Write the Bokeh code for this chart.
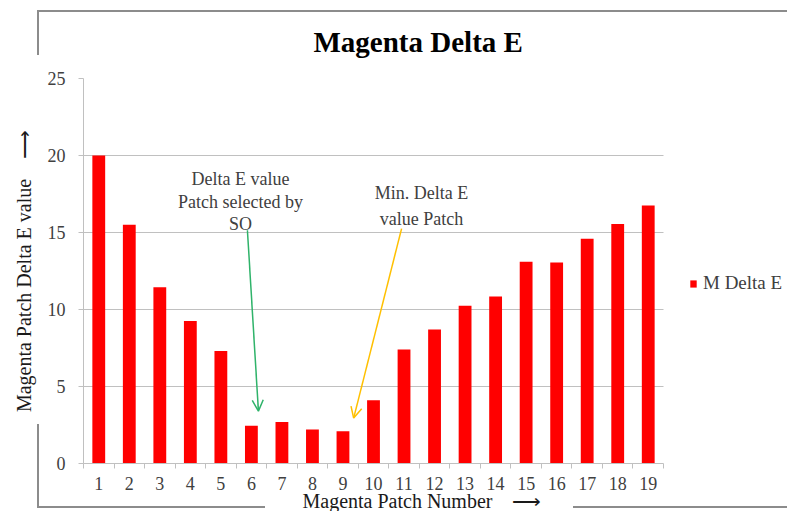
from bokeh.plotting import figure
from bokeh.models import (FixedTicker, Range1d, Title, Arrow, OpenHead, Grid,
                          Legend, LegendItem, ColumnDataSource, InlineStyleSheet)
from bokeh.core.properties import value
from bokeh.embed import file_html
from bokeh.resources import INLINE

# ---------------- data ----------------
patches = list(range(1, 20))
patch_labels = [str(i) for i in patches]
delta_e = [20.0, 15.5, 11.45, 9.25, 7.3, 2.45, 2.7, 2.2, 2.1, 4.1,
           7.4, 8.7, 10.25, 10.85, 13.1, 13.05, 14.6, 15.55, 16.75]
y_ticks = [0, 5, 10, 15, 20, 25]

title_text = "Magenta Delta E"
x_title = "Magenta Patch Number\u00a0\u00a0\u00a0\u00a0\u27f6"
y_title = "Magenta Patch Delta E value\u00a0\u00a0\u00a0\u00a0\u27f6"
series_name = "M Delta E"

note_so_lines = ["Delta E value", "Patch selected by", "SO"]
note_so_x = [5.64, 5.64, 5.64]
note_so_y = [18.5, 16.95, 15.58]
note_min_lines = ["Min. Delta E", "value Patch"]
note_min_x = [11.57, 11.57]
note_min_y = [17.55, 15.85]

arrow_so = dict(x_start=5.87, y_start=15.15, x_end=6.23, y_end=3.4)
arrow_min = dict(x_start=10.92, y_start=15.25, x_end=9.35, y_end=2.95)

FONT = "Liberation Serif"
GRID = "#c0c0c0"
TXT = "#404040"
BORDER = "#8c8c8c"
W, H = 787, 511

# partial chart-area border drawn as page decoration
border_css = InlineStyleSheet(css=f"""
:host {{ position: relative; }}
:host::after {{
  content: ""; position: absolute; left: 0; top: 0; width: {W}px; height: {H}px;
  pointer-events: none; z-index: 10;
  background:
    linear-gradient({BORDER},{BORDER}) 37px 10px / {W - 37}px 2px no-repeat,
    linear-gradient({BORDER},{BORDER}) 37px 10px / 2px 45px no-repeat,
    linear-gradient({BORDER},{BORDER}) 37px 424px / 2px 84px no-repeat,
    linear-gradient({BORDER},{BORDER}) 37px 506px / 228px 2px no-repeat,
    linear-gradient({BORDER},{BORDER}) 573px 506px / {W - 573}px 2px no-repeat;
}}
""")

n = len(patches)
x_lo, x_hi = 0.5, n + 0.5
# frame extends over the legend area on the right (plot area = 580 of 704 px)
x_view_end = x_lo + n * (W - 83) / 580

p = figure(width=W, height=H, output_backend="svg", toolbar_location=None,
           x_range=Range1d(x_lo, x_view_end), y_range=Range1d(0, 25),
           min_border_left=83, min_border_right=0, min_border_top=78,
           min_border_bottom=48, title=None)
p.stylesheets = [border_css]
p.outline_line_color = None
p.background_fill_color = "white"
p.border_fill_color = "white"

src = ColumnDataSource(dict(x=patches, top=delta_e))
bars = p.vbar(x="x", top="top", width=0.42, source=src,
              fill_color="#ff0000", line_color=None)

# axes
xa = p.xaxis[0]
xa.bounds = (x_lo, x_hi)
xa.ticker = FixedTicker(ticks=patches,
                        minor_ticks=[i + 0.5 for i in range(0, n + 1)])
xa.major_label_overrides = {i: l for i, l in zip(patches, patch_labels)}
xa.major_tick_out = 0
xa.major_tick_in = 0
xa.minor_tick_out = 5
xa.minor_tick_in = 0
xa.minor_tick_line_color = GRID
xa.axis_line_color = GRID
xa.major_label_text_font = FONT
xa.major_label_text_font_size = "18px"
xa.major_label_text_color = TXT
xa.major_label_standoff = 8

ya = p.yaxis[0]
ya.ticker = FixedTicker(ticks=y_ticks, minor_ticks=[])
ya.major_tick_out = 5
ya.major_tick_in = 0
ya.minor_tick_line_color = None
ya.major_tick_line_color = GRID
ya.axis_line_color = GRID
ya.major_label_text_font = FONT
ya.major_label_text_font_size = "18px"
ya.major_label_text_color = TXT
ya.major_label_standoff = 13
ya.axis_label = y_title
ya.axis_label_text_font = FONT
ya.axis_label_text_font_size = "20px"
ya.axis_label_text_font_style = "normal"
ya.axis_label_text_color = "#1a1a1a"
ya.axis_label_standoff = 10

p.xgrid.grid_line_color = None
p.ygrid.ticker = FixedTicker(ticks=y_ticks)
if "cross_bounds" in Grid.properties():
    p.ygrid.cross_bounds = (x_lo, x_hi)
    p.ygrid.grid_line_color = GRID
else:
    p.ygrid.grid_line_color = None
    p.segment(x0=x_lo, x1=x_hi, y0=y_ticks, y1=y_ticks, line_color=GRID,
              line_width=1, level="underlay")

# chart title and x axis title
p.add_layout(Title(text=title_text, align="left", offset=230, standoff=41,
                   text_font=FONT, text_font_size="29px", text_font_style="bold",
                   text_color="black"), "above")
p.add_layout(Title(text=x_title, align="left", offset=219, standoff=-10,
                   text_font=FONT, text_font_size="20px", text_font_style="normal",
                   text_color="#1a1a1a"), "below")

# annotations
p.text(x=note_so_x, y=note_so_y, text=note_so_lines, text_align="center",
       text_baseline="middle", text_font=value(FONT), text_font_size="18px",
       text_color=TXT)
p.text(x=note_min_x, y=note_min_y, text=note_min_lines, text_align="center",
       text_baseline="middle", text_font=value(FONT), text_font_size="18px",
       text_color=TXT)

p.add_layout(Arrow(end=OpenHead(size=11, line_color="#2fb36a", line_width=1.5),
                   line_color="#2fb36a", line_width=1.5, **arrow_so))
p.add_layout(Arrow(end=OpenHead(size=11, line_color="#ffc000", line_width=1.5),
                   line_color="#ffc000", line_width=1.5, **arrow_min))

legend = Legend(items=[LegendItem(label=series_name, renderers=[bars])],
                location=(606, 169), border_line_color=None,
                background_fill_alpha=0, padding=0, margin=0, spacing=0,
                glyph_width=8, glyph_height=9, label_height=9,
                label_standoff=6, label_text_font=FONT,
                label_text_font_size="19px", label_text_color=TXT,
                label_text_baseline="middle")
p.add_layout(legend)

open("out.html", "w").write(file_html(p, INLINE))
